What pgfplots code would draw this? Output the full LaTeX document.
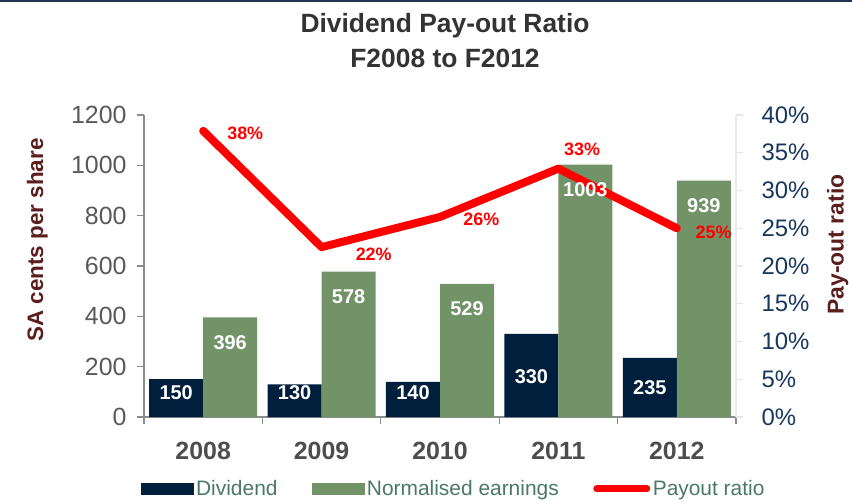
\documentclass[border=0pt]{standalone}
\usepackage{pgfplots}
\pgfplotsset{compat=1.18}
\usepackage{fontspec}
\setmainfont{Liberation Sans}

\definecolor{divnavy}{HTML}{001F3D}
\definecolor{earngreen}{HTML}{729267}
\definecolor{ratiored}{HTML}{FF0000}
\definecolor{titlegray}{HTML}{333333}
\definecolor{xlabgray}{HTML}{4D4D4D}
\definecolor{ylabgray}{HTML}{595959}
\definecolor{rightnavy}{HTML}{17375E}
\definecolor{maroon}{HTML}{5A1E1E}
\definecolor{legteal}{HTML}{4A7868}
\definecolor{axisgray}{HTML}{8C8C8C}
\definecolor{topline}{HTML}{1F3550}

\begin{document}
\begin{tikzpicture}
% values (SA cents per share)
% dividend: 150 130 140 330 235 ; normalised earnings: 396 578 529 1003 939
\begin{axis}[
    at={(0,0)}, anchor=south west,
    width=592bp, height=302bp, scale only axis,
    xmin=-0.5, xmax=4.5, ymin=0, ymax=1200,
    axis x line*=bottom, axis y line*=left,
    axis line style={draw=axisgray, line width=1.2bp},
    xtick={0,...,4}, xticklabels={2008,2009,2010,2011,2012},
    minor xtick={-0.5,0.5,...,4.5},
    major x tick style={draw=none},
    minor x tick style={draw=axisgray, line width=1.2bp},
    ytick={0,200,...,1200},
    y tick style={draw=axisgray, line width=1.2bp},
    tick align=outside,
    major tick length=7bp, minor tick length=7bp,
    /pgf/number format/assume math mode=true,
    /pgf/number format/1000 sep={},
    xticklabel style={font=\fontsize{25}{25}\selectfont\bfseries, color=xlabgray, yshift=-15bp},
    yticklabel style={font=\fontsize{25}{25}\selectfont, color=ylabgray, xshift=-7bp},
    ylabel={SA cents per share},
    ylabel style={at={(axis description cs:-0.18,0.586)}, anchor=center,
        font=\fontsize{22.5}{22.5}\selectfont\bfseries, color=maroon},
    clip=false,
]
\addplot[ybar, bar width=54bp, bar shift=-27bp, fill=divnavy, draw=none]
    coordinates {(0,150) (1,130) (2,140) (3,330) (4,235)};
\addplot[ybar, bar width=54bp, bar shift=27bp, fill=earngreen, draw=none]
    coordinates {(0,396) (1,578) (2,529) (3,1003) (4,939)};
% dividend value labels, placed inside the dark bars
\addplot[draw=none, mark=none, nodes near coords, point meta=explicit symbolic,
    every node near coord/.append style={anchor=center, xshift=-27bp, color=white,
        font=\fontsize{20}{20}\selectfont\bfseries}]
    coordinates {(0,95)[150] (1,95)[130] (2,95)[140] (3,159)[330] (4,115)[235]};
\end{axis}

\begin{axis}[
    at={(0,0)}, anchor=south west,
    width=592bp, height=302bp, scale only axis,
    xmin=-0.5, xmax=4.5, ymin=0, ymax=40,
    axis x line=none, axis y line*=right,
    axis line style={draw=black!8, line width=1.2bp},
    ytick={0,5,...,40},
    y tick style={draw=black!10, line width=1.2bp},
    tick align=outside, major tick length=7bp,
    /pgf/number format/assume math mode=true,
    yticklabel={\pgfmathprintnumber{\tick}\%},
    yticklabel style={font=\fontsize{24}{24}\selectfont, color=rightnavy, xshift=15bp},
    ylabel={Pay-out ratio},
    ylabel style={at={(axis description cs:1.172,0.571)}, anchor=center,
        font=\fontsize{23}{23}\selectfont\bfseries, color=maroon},
    clip=false,
    legend columns=3,
    legend style={at={(axis description cs:-0.005,-0.238)}, anchor=west,
        draw=none, fill=none, inner sep=0pt,
        font=\fontsize{21}{21}\selectfont, text=legteal,
        nodes={inner xsep=2.5bp},
        /tikz/every odd column/.append style={column sep=0bp},
        /tikz/every even column/.append style={column sep=32bp}},
]
\addlegendimage{legend image code/.code={\fill[divnavy] (0bp,-5.5bp) rectangle (52bp,5.5bp);}}
\addlegendentry{Dividend}
\addlegendimage{legend image code/.code={\fill[earngreen] (0bp,-5.5bp) rectangle (52bp,5.5bp);}}
\addlegendentry{Normalised earnings}
\addplot[ratiored, line width=8bp, line join=round, line cap=round, mark=none,
    legend image code/.code={\draw[ratiored, line width=7bp, line cap=round] (3.5bp,0) -- (53.5bp,0);}]
    coordinates {(0,37.9) (1,22.5) (2,26.5) (3,32.9) (4,25.0)};
\addlegendentry{Payout ratio}
% percentage labels beside the line
\addplot[draw=none, mark=none, forget plot, nodes near coords, point meta=explicit symbolic,
    every node near coord/.append style={anchor=center, color=ratiored,
        font=\fontsize{18}{18}\selectfont\bfseries}]
    coordinates {(0.355,37.6)[38\%] (1.44,21.6)[22\%] (2.35,26.2)[26\%] (3.2,35.4)[33\%] (4.31,24.5)[25\%]};
% earnings value labels (drawn over the line), near the top of the green bars
\addplot[draw=none, mark=none, forget plot, nodes near coords, point meta=explicit symbolic,
    every node near coord/.append style={anchor=center, xshift=27bp, color=white,
        font=\fontsize{20}{20}\selectfont\bfseries}]
    coordinates {(0,9.89)[396] (1,15.96)[578] (2,14.32)[529] (3,30.12)[1003] (4,27.99)[939]};
\end{axis}

\node[align=center, font=\fontsize{26.5}{35}\selectfont\bfseries, text=titlegray]
    at (301bp,376bp) {Dividend Pay-out Ratio\\F2008 to F2012};
\fill[topline] (-144bp,415.3bp) rectangle (708bp,417bp);

\pgfresetboundingbox
\path[use as bounding box] (-144bp,-84bp) rectangle (708bp,417bp);
\end{tikzpicture}
\end{document}
